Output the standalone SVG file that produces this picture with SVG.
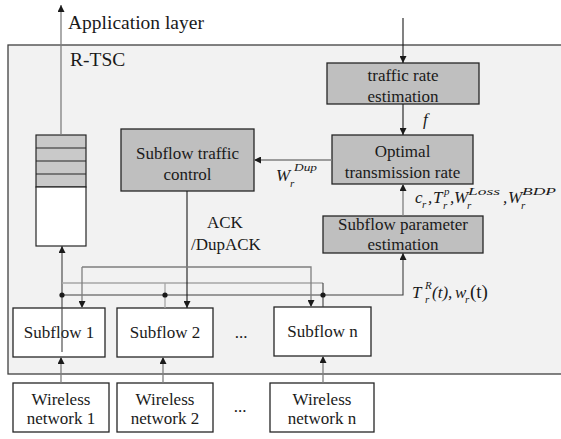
<svg xmlns="http://www.w3.org/2000/svg" width="561" height="439" viewBox="0 0 561 439" font-family="'Liberation Serif', 'Times New Roman', serif">
<defs>
<style>
.t{font-size:17px;fill:#1a1a1a;text-anchor:middle}
.tl{font-size:19.5px;fill:#1a1a1a}
.m{font-style:italic;font-size:17px;fill:#1a1a1a}
.s{font-style:italic;font-size:11px;fill:#1a1a1a}
.gbox{fill:#bfbfbf;stroke:#262626;stroke-width:1.3}
.wbox{fill:#ffffff;stroke:#262626;stroke-width:1.3}
.k{fill:none;stroke:#1a1a1a;stroke-width:1.1}
.g{fill:none;stroke:#7f7f7f;stroke-width:1.3}
.d{fill:none;stroke:#404040;stroke-width:1.1}
.lg{fill:none;stroke:#a6a6a6;stroke-width:1.3}
</style>
<marker id="ah" viewBox="0 0 10 10" refX="10" refY="5" markerWidth="7" markerHeight="7" markerUnits="userSpaceOnUse" orient="auto">
<path d="M0,0 L10,5 L0,10 z" fill="#1a1a1a"/>
</marker>
</defs>

<rect id="rtsc" x="8" y="45" width="560" height="329" fill="#f2f2f2" stroke="#404040" stroke-width="1.3"/>
<text class="tl" x="70" y="66">R-TSC</text>
<text class="tl" x="68" y="29">Application layer</text>

<g id="queue">
<rect x="36" y="135" width="50" height="52" fill="#c9c9c9" stroke="#262626" stroke-width="1.2"/>
<rect x="36" y="187" width="50" height="59" fill="#ffffff" stroke="#262626" stroke-width="1.2"/>
<line x1="36" y1="148" x2="86" y2="148" stroke="#262626" stroke-width="1.2"/>
<line x1="36" y1="161" x2="86" y2="161" stroke="#262626" stroke-width="1.2"/>
<line x1="36" y1="174" x2="86" y2="174" stroke="#262626" stroke-width="1.2"/>
</g>

<g id="stc">
<rect class="gbox" x="121" y="129" width="133" height="62"/>
<text class="t" x="187.5" y="159">Subflow traffic</text>
<text class="t" x="187.5" y="180">control</text>
</g>

<g id="tre">
<rect class="gbox" x="327" y="63" width="152" height="41"/>
<text class="t" x="403" y="81">traffic rate</text>
<text class="t" x="403" y="102">estimation</text>
</g>

<g id="otr">
<rect class="gbox" x="332" y="135" width="141" height="49"/>
<text class="t" x="402.5" y="157">Optimal</text>
<text class="t" x="402.5" y="178">transmission rate</text>
</g>

<g id="spe">
<rect class="gbox" x="323" y="216" width="160" height="37"/>
<text class="t" x="403" y="230">Subflow parameter</text>
<text class="t" x="403" y="250">estimation</text>
</g>

<g id="sf1">
<rect class="wbox" x="13" y="308" width="92" height="49"/>
<text class="t" x="59" y="338">Subflow 1</text>
</g>
<g id="sf2">
<rect class="wbox" x="117" y="308" width="96" height="49"/>
<text class="t" x="165" y="338">Subflow 2</text>
</g>
<text class="t" x="241" y="338">...</text>
<g id="sfn">
<rect class="wbox" x="274" y="307" width="97" height="49"/>
<text class="t" x="322.5" y="337">Subflow n</text>
</g>

<g id="wn1">
<rect class="wbox" x="13" y="383" width="96" height="49"/>
<text class="t" x="61" y="405">Wireless</text>
<text class="t" x="61" y="424">network 1</text>
</g>
<g id="wn2">
<rect class="wbox" x="117" y="383" width="96" height="49"/>
<text class="t" x="165" y="405">Wireless</text>
<text class="t" x="165" y="424">network 2</text>
</g>
<text class="t" x="240" y="412">...</text>
<g id="wnn">
<rect class="wbox" x="270" y="383" width="104" height="49"/>
<text class="t" x="322" y="405">Wireless</text>
<text class="t" x="322" y="424">network n</text>
</g>

<g id="connectors">
<line class="g" x1="61" y1="135" x2="61" y2="5" marker-end="url(#ah)"/>
<line class="k" x1="403" y1="18" x2="403" y2="63" marker-end="url(#ah)"/>
<line class="k" x1="403" y1="104" x2="403" y2="135" marker-end="url(#ah)"/>
<line class="g" x1="403" y1="216" x2="403" y2="184" marker-end="url(#ah)"/>
<line class="g" x1="332" y1="160" x2="254" y2="160" marker-end="url(#ah)"/>
<polyline class="d" points="62,295 403,295 403,253" marker-end="url(#ah)"/>
<line class="d" x1="62" y1="352" x2="62" y2="246" marker-end="url(#ah)"/>
<polyline class="lg" points="62,283 323,283"/>
<line class="lg" x1="165" y1="283" x2="165" y2="308"/>
<line class="d" x1="323" y1="283" x2="323" y2="307"/>
<line class="k" x1="187" y1="191" x2="187" y2="308" marker-end="url(#ah)"/>
<polyline class="g" points="82,267 311,267 311,307" marker-end="url(#ah)"/>
<line class="g" x1="82" y1="267" x2="82" y2="308" marker-end="url(#ah)"/>
<line class="g" x1="61" y1="383" x2="61" y2="357" marker-end="url(#ah)"/>
<line class="g" x1="163" y1="383" x2="163" y2="357" marker-end="url(#ah)"/>
<line class="g" x1="323" y1="383" x2="323" y2="356" marker-end="url(#ah)"/>
<circle cx="62" cy="295" r="2.6" fill="#1a1a1a"/>
<circle cx="165" cy="295" r="2.6" fill="#1a1a1a"/>
<circle cx="323" cy="295" r="2.6" fill="#1a1a1a"/>
<text class="m" x="423" y="125">f</text>
<text class="m" x="276" y="181">W</text>
<text class="s" x="294" y="171" textLength="23" lengthAdjust="spacingAndGlyphs">Dup</text>
<text class="s" x="290" y="187">r</text>
<text class="t" x="207" y="228" style="text-anchor:start">ACK</text>
<text class="t" x="191" y="250" style="text-anchor:start">/DupACK</text>
<text class="m" x="415" y="203">c</text><text class="s" x="422" y="208">r</text><text class="m" x="428" y="203">,</text>
<text class="m" x="433" y="203">T</text><text class="s" x="444" y="195">p</text><text class="s" x="443" y="209">r</text><text class="m" x="450" y="203">,</text>
<text class="m" x="454" y="203">W</text><text class="s" x="468" y="195" textLength="32" lengthAdjust="spacingAndGlyphs">Loss</text><text class="s" x="467" y="209">r</text><text class="m" x="503" y="203">,</text>
<text class="m" x="508" y="203">W</text><text class="s" x="522" y="195" textLength="34" lengthAdjust="spacingAndGlyphs">BDP</text><text class="s" x="521" y="209">r</text>
<text class="m" x="412" y="298">T</text><text class="s" x="425" y="289">R</text><text class="s" x="425" y="303">r</text><text class="m" x="432" y="298" font-size="18">(t),</text>
<text class="m" x="455" y="298">w</text><text class="s" x="465" y="303">r</text><text x="470" y="298" font-size="19" fill="#1a1a1a">(t)</text>
</g>
</svg>
